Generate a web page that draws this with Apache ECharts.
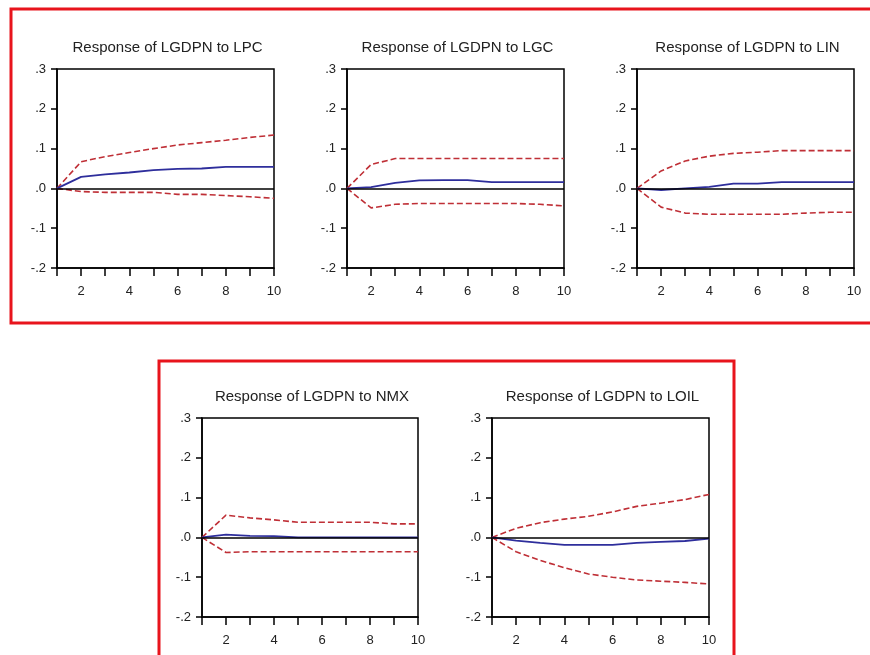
<!DOCTYPE html>
<html>
<head>
<meta charset="utf-8">
<script src="https://cdn.jsdelivr.net/npm/echarts@6/dist/echarts.min.js"></script>
<style>
  html, body { margin: 0; padding: 0; background: #fff; }
  #chart { width: 870px; height: 655px; }
</style>
</head>
<body>
<div id="chart"></div>
<script>
// impulse response periods
const periods = [1, 2, 3, 4, 5, 6, 7, 8, 9, 10];

// Response of LGDPN to LPC
const lpcResp  = [0, 0.029, 0.035, 0.040, 0.046, 0.049, 0.050, 0.054, 0.054, 0.054];
const lpcUpper = [0, 0.067, 0.080, 0.090, 0.100, 0.109, 0.115, 0.121, 0.128, 0.134];
const lpcLower = [0, -0.008, -0.010, -0.010, -0.010, -0.015, -0.015, -0.018, -0.021, -0.025];

// Response of LGDPN to LGC
const lgcResp  = [0, 0.003, 0.014, 0.020, 0.021, 0.021, 0.016, 0.016, 0.016, 0.016];
const lgcUpper = [0, 0.060, 0.075, 0.075, 0.075, 0.075, 0.075, 0.075, 0.075, 0.075];
const lgcLower = [0, -0.049, -0.040, -0.038, -0.038, -0.038, -0.038, -0.038, -0.040, -0.044];

// Response of LGDPN to LIN
const linResp  = [0, -0.004, 0.000, 0.004, 0.012, 0.012, 0.016, 0.016, 0.016, 0.016];
const linUpper = [0, 0.044, 0.069, 0.081, 0.088, 0.091, 0.095, 0.095, 0.095, 0.095];
const linLower = [0, -0.047, -0.062, -0.065, -0.065, -0.065, -0.065, -0.062, -0.060, -0.060];

// Response of LGDPN to NMX
const nmxResp  = [0, 0.007, 0.004, 0.003, 0.000, 0.000, 0.000, 0.000, 0.000, 0.000];
const nmxUpper = [0, 0.056, 0.049, 0.044, 0.038, 0.038, 0.038, 0.038, 0.034, 0.034];
const nmxLower = [0, -0.038, -0.036, -0.036, -0.036, -0.036, -0.036, -0.036, -0.036, -0.036];

// Response of LGDPN to LOIL
const oilResp  = [0, -0.008, -0.014, -0.019, -0.019, -0.019, -0.014, -0.011, -0.009, -0.003];
const oilUpper = [0, 0.023, 0.037, 0.046, 0.053, 0.064, 0.078, 0.086, 0.095, 0.108];
const oilLower = [0, -0.036, -0.058, -0.076, -0.092, -0.100, -0.107, -0.110, -0.113, -0.117];

const titles = [
  'Response of LGDPN to LPC',
  'Response of LGDPN to LGC',
  'Response of LGDPN to LIN',
  'Response of LGDPN to NMX',
  'Response of LGDPN to LOIL'
];
const responses = [lpcResp, lgcResp, linResp, nmxResp, oilResp];
const uppers = [lpcUpper, lgcUpper, linUpper, nmxUpper, oilUpper];
const lowers = [lpcLower, lgcLower, linLower, nmxLower, oilLower];

// plot boxes in pixels
const boxes = [
  { left: 57,  top: 69,  width: 217, height: 199 },
  { left: 347, top: 69,  width: 217, height: 199 },
  { left: 637, top: 69,  width: 217, height: 199 },
  { left: 202, top: 418, width: 216, height: 199 },
  { left: 492, top: 418, width: 217, height: 199 }
];

const font = 'Liberation Sans, Arial, sans-serif';
const blue = '#2e2e9c';
const red = '#bf2f36';

const pairs = arr => periods.map((p, i) => [p, arr[i]]);

const grid = [], xAxis = [], yAxis = [], series = [], title = [];

boxes.forEach((b, i) => {
  grid.push({
    left: b.left, top: b.top, width: b.width, height: b.height,
    show: true, borderColor: '#000', borderWidth: 1.5, backgroundColor: 'transparent'
  });
  title.push({
    text: titles[i],
    left: b.left + b.width / 2 - 3,
    top: b.top - 34,
    textAlign: 'center',
    textStyle: { fontFamily: font, fontSize: 15, fontWeight: 'normal', color: '#222' }
  });
  xAxis.push({
    type: 'value', gridIndex: i, min: 1, max: 10, interval: 1,
    axisLine: { show: true, onZero: false, lineStyle: { color: '#000', width: 1.5 } },
    axisTick: { show: true, inside: false, length: 8, lineStyle: { color: '#000', width: 1.5 } },
    axisLabel: {
      margin: 17, fontFamily: font, fontSize: 13, color: '#222',
      formatter: v => (v % 2 === 0 ? String(v) : '')
    },
    splitLine: { show: false }
  });
  yAxis.push({
    type: 'value', gridIndex: i, min: -0.2, max: 0.3, interval: 0.1,
    axisLine: { show: true, lineStyle: { color: '#000', width: 1.5 } },
    axisTick: { show: true, length: 6, lineStyle: { color: '#000', width: 1.5 } },
    axisLabel: {
      margin: 11, fontFamily: font, fontSize: 13, color: '#222',
      formatter: v => v.toFixed(1).replace('0.', '.')
    },
    splitLine: { show: false }
  });
  series.push({
    type: 'line', xAxisIndex: i, yAxisIndex: i, data: pairs(responses[i]),
    symbol: 'none', lineStyle: { color: blue, width: 1.8 }, z: 4,
    markLine: {
      silent: true, symbol: 'none', label: { show: false },
      lineStyle: { color: '#000', width: 1.5, type: 'solid' },
      data: [{ yAxis: 0 }]
    }
  });
  series.push({
    type: 'line', xAxisIndex: i, yAxisIndex: i, data: pairs(uppers[i]),
    symbol: 'none', lineStyle: { color: red, width: 1.6, type: [6, 3] }, z: 3
  });
  series.push({
    type: 'line', xAxisIndex: i, yAxisIndex: i, data: pairs(lowers[i]),
    symbol: 'none', lineStyle: { color: red, width: 1.6, type: [6, 3] }, z: 3
  });
});

const chart = echarts.init(document.getElementById('chart'), null, { renderer: 'canvas' });
chart.setOption({
  backgroundColor: '#fff',
  animation: false,
  title, grid, xAxis, yAxis, series,
  graphic: [
    { type: 'rect', shape: { x: 11, y: 9, width: 880, height: 314 },
      style: { fill: 'none', stroke: '#e8141c', lineWidth: 3 } },
    { type: 'rect', shape: { x: 159, y: 361, width: 575, height: 320 },
      style: { fill: 'none', stroke: '#e8141c', lineWidth: 3 } }
  ]
});
</script>
</body>
</html>
